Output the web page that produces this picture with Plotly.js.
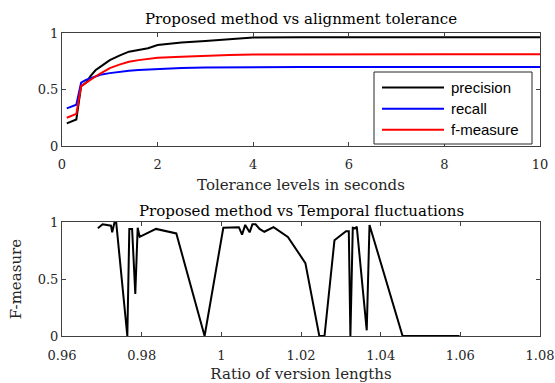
<!DOCTYPE html>
<html>
<head>
<meta charset="utf-8">
<script src="https://cdn.plot.ly/plotly-3.0.1.min.js"></script>
<style>html,body{margin:0;padding:0;background:#fff;}#chart{width:555px;height:383px;}</style>
</head>
<body>
<div id="chart"></div>
<script>
// Top chart: tolerance levels (seconds)
var tolerance = [0.1, 0.2, 0.3, 0.4, 0.5, 0.6, 0.7, 0.8, 1.0, 1.2, 1.4, 1.6, 1.8, 2.0, 2.5, 3.0, 3.5, 4.0, 5, 6, 7, 8, 9, 10];
var precision = [0.20, 0.215, 0.235, 0.53, 0.56, 0.62, 0.67, 0.70, 0.76, 0.80, 0.835, 0.85, 0.865, 0.893, 0.915, 0.93, 0.945, 0.96, 0.962, 0.963, 0.963, 0.963, 0.963, 0.963];
var recall = [0.333, 0.35, 0.365, 0.56, 0.585, 0.60, 0.615, 0.63, 0.645, 0.657, 0.665, 0.673, 0.678, 0.683, 0.69, 0.694, 0.697, 0.70, 0.70, 0.70, 0.70, 0.70, 0.70, 0.70];
var fmeasure = [0.25, 0.265, 0.285, 0.53, 0.56, 0.59, 0.615, 0.64, 0.69, 0.72, 0.745, 0.76, 0.77, 0.78, 0.79, 0.80, 0.805, 0.81, 0.812, 0.813, 0.813, 0.813, 0.813, 0.813];
var seriesNames = ['precision', 'recall', 'f-measure'];

// Bottom chart: ratio of version lengths vs F-measure
var ratio = [0.9690, 0.9702, 0.9723, 0.9726, 0.9732, 0.9736, 0.9764, 0.9769, 0.9776, 0.9784, 0.9790, 0.9795, 0.9836, 0.9887, 0.9958,
             1.0005, 1.0044, 1.0052, 1.0060, 1.0071, 1.0078, 1.0086, 1.0096, 1.0108, 1.0131, 1.0167, 1.0211, 1.0246, 1.0259,
             1.0284, 1.0313, 1.0320, 1.0324, 1.0330, 1.0336, 1.0340, 1.0365, 1.0372, 1.0455, 1.0598];
var ratioF = [0.945, 0.980, 0.968, 0.910, 1.000, 1.000, 0.000, 0.940, 0.940, 0.370, 0.950, 0.870, 0.940, 0.900, 0.000,
              0.950, 0.955, 0.890, 0.975, 0.910, 0.980, 0.980, 0.940, 0.915, 0.955, 0.870, 0.640, 0.000, 0.000,
              0.840, 0.920, 0.920, 0.000, 0.950, 0.945, 0.960, 0.050, 0.975, 0.000, 0.000];

var topXTicks = [0, 2, 4, 6, 8, 10];
var yTicks = [0, 0.5, 1];
var yTickText = ['0', '0.5', '1'];
var botXTicks = [0.96, 0.98, 1, 1.02, 1.04, 1.06, 1.08];
var botXTickText = ['0.96', '0.98', '1', '1.02', '1.04', '1.06', '1.08'];

var colors = ['#000000', '#0000ff', '#ff0000'];
var serif = 'DejaVu Serif, serif';
var sans = 'Liberation Sans, Arial, sans-serif';
var axisColor = '#404040';

var traces = [
  {x: tolerance, y: precision, name: seriesNames[0], mode: 'lines', line: {color: colors[0], width: 2}, xaxis: 'x', yaxis: 'y'},
  {x: tolerance, y: recall, name: seriesNames[1], mode: 'lines', line: {color: colors[1], width: 2}, xaxis: 'x', yaxis: 'y'},
  {x: tolerance, y: fmeasure, name: seriesNames[2], mode: 'lines', line: {color: colors[2], width: 2}, xaxis: 'x', yaxis: 'y'},
  {x: ratio, y: ratioF, name: 'F-measure', mode: 'lines', line: {color: '#000000', width: 2}, xaxis: 'x2', yaxis: 'y2', showlegend: false}
];

function axisBase() {
  return {
    showline: true, mirror: 'ticks', linecolor: axisColor, linewidth: 1,
    ticks: 'inside', ticklen: 4, tickcolor: axisColor, tickwidth: 1,
    showgrid: false, zeroline: false,
    tickfont: {family: serif, size: 13, color: '#262626'}
  };
}

var xa = axisBase();
Object.assign(xa, {domain: [0, 1], range: [0, 10], anchor: 'y', tickmode: 'array', tickvals: topXTicks, ticklabelstandoff: 6,
  title: {text: 'Tolerance levels in seconds', font: {family: serif, size: 15, color: '#262626'}, standoff: 8}});
var ya = axisBase();
Object.assign(ya, {domain: [0.627, 1], range: [0, 1], anchor: 'x', tickmode: 'array', tickvals: yTicks, ticktext: yTickText});
var xa2 = axisBase();
Object.assign(xa2, {domain: [0, 1], range: [0.96, 1.08], anchor: 'y2', tickmode: 'array', tickvals: botXTicks, ticktext: botXTickText,
  ticklabelstandoff: 7,
  title: {text: 'Ratio of version lengths', font: {family: serif, size: 15, color: '#262626'}, standoff: 6}});
var ya2 = axisBase();
Object.assign(ya2, {domain: [0, 0.376], range: [0, 1], anchor: 'x2', tickmode: 'array', tickvals: yTicks, ticktext: yTickText,
  title: {text: 'F-measure', font: {family: serif, size: 15, color: '#262626'}, standoff: 12}});

// Legend drawn as box + line samples + labels (paper coords)
var legX0 = (374 - 62) / 478, legX1 = (532 - 62) / 478;
var legY0 = (336 - 72) / 303, legY1 = (336 - 144) / 303;
var rowY = [87.6, 108.8, 129.8].map(function (p) { return (336 - p) / 303; });
var lineX0 = (382 - 62) / 478, lineX1 = (444 - 62) / 478, textX = (449 - 62) / 478;

var shapes = [{type: 'rect', xref: 'paper', yref: 'paper', x0: legX0, x1: legX1, y0: legY1, y1: legY0,
  line: {color: '#262626', width: 1}, fillcolor: '#ffffff', layer: 'above'}];
var annotations = [
  {text: 'Proposed method vs alignment tolerance', xref: 'paper', yref: 'paper', x: 0.5, y: (336 - 19) / 303,
   xanchor: 'center', yanchor: 'middle', showarrow: false, font: {family: serif, size: 15, color: '#000'}},
  {text: 'Proposed method vs Temporal fluctuations', xref: 'paper', yref: 'paper', x: 0.5, y: (336 - 211) / 303,
   xanchor: 'center', yanchor: 'middle', showarrow: false, font: {family: serif, size: 15, color: '#000'}}
];
for (var i = 0; i < seriesNames.length; i++) {
  shapes.push({type: 'line', xref: 'paper', yref: 'paper', x0: lineX0, x1: lineX1, y0: rowY[i], y1: rowY[i],
    line: {color: colors[i], width: 2}, layer: 'above'});
  annotations.push({text: seriesNames[i], xref: 'paper', yref: 'paper', x: textX, y: rowY[i], xanchor: 'left', yanchor: 'middle',
    showarrow: false, font: {family: sans, size: 15, color: '#000'}});
}

var layout = {
  width: 555, height: 383,
  margin: {l: 62, r: 15, t: 33, b: 47, pad: 0},
  paper_bgcolor: '#ffffff', plot_bgcolor: '#ffffff',
  showlegend: false,
  xaxis: xa, yaxis: ya, xaxis2: xa2, yaxis2: ya2,
  shapes: shapes, annotations: annotations
};

Plotly.newPlot('chart', traces, layout, {displayModeBar: false, staticPlot: true});
</script>
</body>
</html>
